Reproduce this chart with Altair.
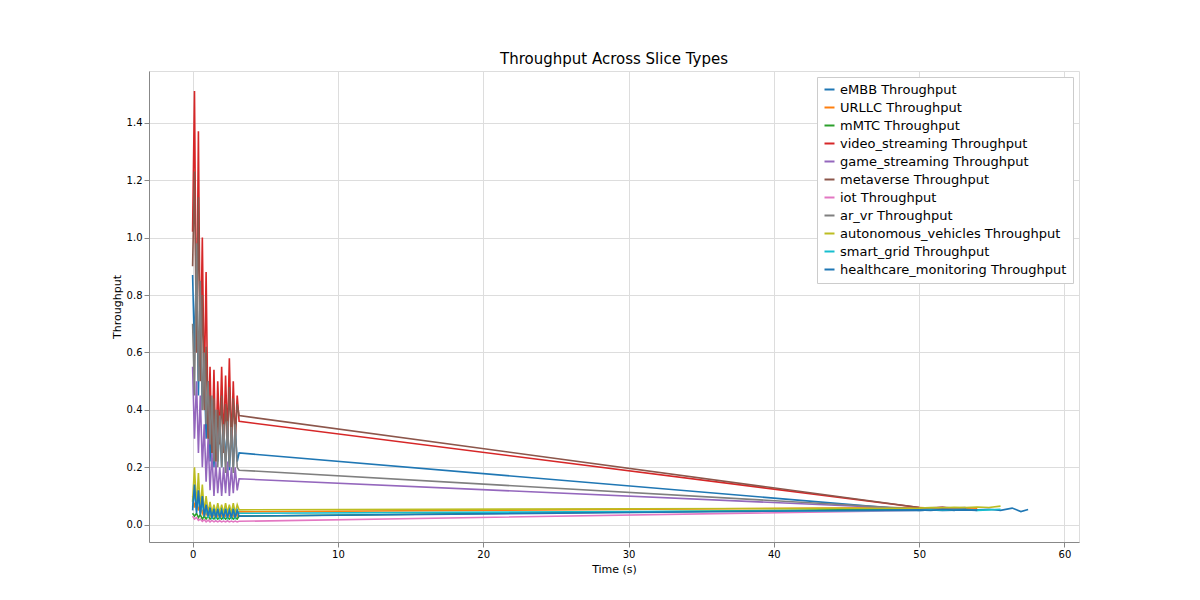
import altair as alt
import pandas as pd

early_t = [0,0.13,0.27,0.4,0.53,0.67,0.8,0.93,1.07,1.2,1.33,1.47,1.6,1.73,1.87,2.0,2.13,2.27,2.4,2.53,2.67,2.8,2.93,3.07,3.2]
late_t = [50,50.8,51.6,52.4,53.2,54.0,54.8,55.6,56.4,57.0,57.5]

names = ["eMBB","URLLC","mMTC","video_streaming","game_streaming","metaverse","iot","ar_vr","autonomous_vehicles","smart_grid","healthcare_monitoring"]
colors = ["#1f77b4","#ff7f0e","#2ca02c","#d62728","#9467bd","#8c564b","#e377c2","#7f7f7f","#bcbd22","#17becf","#1f77b4"]

early = {
"eMBB": [0.87,0.6,0.93,0.45,0.78,0.4,0.55,0.3,0.5,0.22,0.42,0.2,0.38,0.22,0.36,0.2,0.34,0.22,0.35,0.19,0.33,0.2,0.34,0.22,0.25],
"URLLC": [0.1,0.06,0.09,0.05,0.07,0.04,0.06,0.035,0.05,0.03,0.045,0.03,0.045,0.03,0.04,0.03,0.045,0.03,0.04,0.03,0.045,0.03,0.04,0.03,0.045],
"mMTC": [0.04,0.03,0.04,0.025,0.035,0.02,0.03,0.02,0.03,0.02,0.025,0.02,0.028,0.02,0.026,0.02,0.027,0.02,0.026,0.02,0.027,0.02,0.026,0.02,0.03],
"video_streaming": [1.02,1.51,0.6,1.37,0.55,1.0,0.45,0.88,0.3,0.55,0.25,0.54,0.22,0.5,0.3,0.55,0.28,0.52,0.3,0.58,0.28,0.5,0.3,0.45,0.36],
"game_streaming": [0.55,0.3,0.5,0.25,0.45,0.2,0.35,0.15,0.3,0.12,0.25,0.1,0.22,0.11,0.2,0.1,0.2,0.11,0.22,0.1,0.2,0.11,0.2,0.12,0.16],
"metaverse": [0.9,1.23,0.6,1.14,0.5,0.8,0.4,0.62,0.3,0.45,0.25,0.44,0.22,0.4,0.28,0.45,0.25,0.42,0.3,0.48,0.28,0.44,0.3,0.42,0.38],
"iot": [0.03,0.02,0.025,0.015,0.02,0.012,0.018,0.01,0.016,0.01,0.015,0.01,0.014,0.01,0.014,0.01,0.013,0.01,0.014,0.01,0.013,0.01,0.013,0.01,0.012],
"ar_vr": [0.7,0.45,0.98,0.5,0.85,0.4,0.6,0.35,0.5,0.28,0.45,0.22,0.4,0.2,0.38,0.2,0.35,0.18,0.36,0.2,0.34,0.18,0.35,0.2,0.19],
"autonomous_vehicles": [0.08,0.2,0.06,0.18,0.05,0.14,0.04,0.1,0.04,0.08,0.04,0.07,0.04,0.075,0.04,0.07,0.04,0.075,0.04,0.07,0.04,0.075,0.04,0.07,0.052],
"smart_grid": [0.06,0.12,0.05,0.1,0.04,0.08,0.03,0.06,0.025,0.05,0.025,0.05,0.025,0.05,0.025,0.05,0.025,0.05,0.025,0.05,0.025,0.05,0.025,0.05,0.04],
"healthcare_monitoring": [0.05,0.14,0.04,0.12,0.035,0.1,0.03,0.07,0.03,0.06,0.025,0.055,0.025,0.055,0.025,0.05,0.025,0.055,0.025,0.05,0.025,0.055,0.025,0.05,0.03],
}
late = {
"eMBB": [0.05,0.052,0.055,0.05,0.056,0.052,0.054,0.05,0.058,0.046,0.053],
"URLLC": [0.06,0.058,0.06,0.057,0.059,0.058],
"mMTC": [0.055,0.053,0.056,0.054,0.055],
"video_streaming": [0.06,0.058,0.06,0.057,0.059],
"game_streaming": [0.055,0.056,0.054,0.055],
"metaverse": [0.06,0.059,0.061,0.058,0.06],
"iot": [0.05,0.052,0.05,0.051],
"ar_vr": [0.055,0.056,0.054,0.057,0.055],
"autonomous_vehicles": [0.058,0.06,0.059,0.061,0.06,0.062,0.06,0.065],
"smart_grid": [0.05,0.052,0.05,0.051,0.053,0.05,0.052,0.054],
"healthcare_monitoring": [0.052,0.05,0.053,0.051,0.052,0.05],
}

rows = []
for n in names:
    lab = n + " Throughput"
    for t, v in zip(early_t, early[n]):
        rows.append({"t": t, "v": v, "s": lab})
    for t, v in zip(late_t, late[n]):
        rows.append({"t": t, "v": v, "s": lab})
df = pd.DataFrame(rows)
labels = [n + " Throughput" for n in names]

chart = alt.Chart(df).mark_line(strokeWidth=1.6).encode(
    x=alt.X("t:Q", title="Time (s)", scale=alt.Scale(domain=[-3, 61], nice=False),
            axis=alt.Axis(values=[0,10,20,30,40,50,60], format="d", titleFontWeight="normal")),
    y=alt.Y("v:Q", title="Throughput", scale=alt.Scale(domain=[-0.06, 1.58], nice=False),
            axis=alt.Axis(values=[0,0.2,0.4,0.6,0.8,1.0,1.2,1.4], format=".1f", titleFontWeight="normal")),
    color=alt.Color("s:N", scale=alt.Scale(domain=labels, range=colors), sort=labels,
                    legend=alt.Legend(title=None, orient="top-right", symbolType="stroke",
                                      strokeColor="#cccccc", fillColor="white", padding=6,
                                      labelFontSize=13, symbolStrokeWidth=2, rowPadding=4,
                                      labelLimit=400, offset=6)),
    detail="s:N",
).properties(
    width=930, height=471,
    title=alt.Title("Throughput Across Slice Types", fontSize=15, fontWeight="normal"),
    padding={"left": 103, "top": 44, "right": 10, "bottom": 10},
).configure_axis(
    gridColor="#b0b0b0", gridOpacity=1, domainColor="black", tickColor="black", labelFontSize=12,
    titleFontSize=13, titleFontWeight="normal", labelColor="black", titleColor="black"
).configure_view(stroke="black").configure(font="DejaVu Sans")

chart.save("out.html", embed_options={"renderer": "svg", "actions": False})
